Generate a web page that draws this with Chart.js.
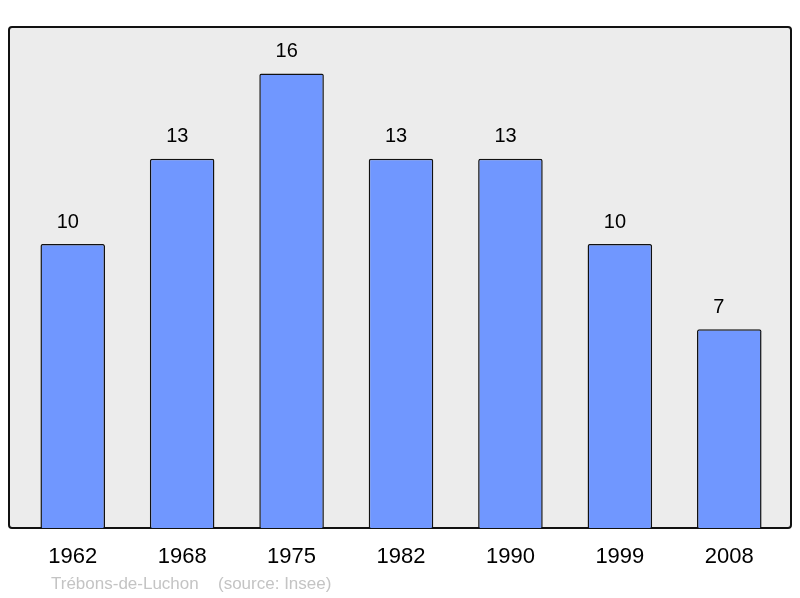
<!DOCTYPE html>
<html>
<head>
<meta charset="utf-8">
<script src="https://cdn.jsdelivr.net/npm/chart.js@4/dist/chart.umd.min.js"></script>
<style>
  html, body { margin: 0; padding: 0; background: #fff; }
  #wrap { width: 800px; height: 598px; }
</style>
</head>
<body>
<div id="wrap"><canvas id="chart" width="800" height="598"></canvas></div>
<script>
const years = ['1962', '1968', '1975', '1982', '1990', '1999', '2008'];
const population = [10, 13, 16, 13, 13, 10, 7];
const sourceName = 'Trébons-de-Luchon';
const sourceRef = '(source: Insee)';

// grey panel behind the bars, a little wider than the chart area
const panel = {
  id: 'panel',
  beforeDraw(chart) {
    const { ctx, chartArea: a } = chart;
    const x = a.left - 9, y = a.top, w = a.right - a.left + 16, h = a.bottom - a.top;
    ctx.save();
    ctx.fillStyle = '#ececec';
    ctx.strokeStyle = '#111';
    ctx.lineWidth = 2;
    ctx.beginPath();
    ctx.roundRect(x, y, w, h, 3);
    ctx.fill();
    ctx.stroke();
    ctx.restore();
  },
  afterDraw(chart) {
    const { ctx } = chart;
    const meta = chart.getDatasetMeta(0);
    ctx.save();
    ctx.font = '20px "Liberation Sans", Arial, sans-serif';
    ctx.fillStyle = '#000';
    ctx.textAlign = 'left';
    ctx.textBaseline = 'middle';
    meta.data.forEach((bar, i) => {
      ctx.fillText(String(population[i]), bar.x - 16, bar.y - 22);
    });
    ctx.font = '17px "Liberation Sans", Arial, sans-serif';
    ctx.fillStyle = '#c4c4c4';
    ctx.fillText(sourceName, 51, 584);
    ctx.fillText(sourceRef, 218, 584);
    ctx.restore();
  }
};

new Chart(document.getElementById('chart'), {
  type: 'bar',
  data: {
    labels: years,
    datasets: [{
      data: population,
      backgroundColor: '#7097ff',
      borderColor: '#111',
      borderWidth: 1.5,
      borderRadius: 2,
      borderSkipped: 'bottom',
      barPercentage: 0.59,
      categoryPercentage: 1
    }]
  },
  options: {
    responsive: false,
    animation: false,
    layout: { padding: { left: 18, right: 16, top: 27, bottom: 0 } },
    scales: {
      y: { display: false, min: 0, max: 17.64 },
      x: {
        grid: { display: false },
        border: { display: false },
        ticks: {
          color: '#000',
          padding: 8,
          font: { size: 22, family: '"Liberation Sans", Arial, sans-serif' }
        },
        afterFit(scale) { scale.height = 70; }
      }
    },
    plugins: {
      legend: { display: false },
      tooltip: { enabled: false }
    }
  },
  plugins: [panel]
});
</script>
</body>
</html>
